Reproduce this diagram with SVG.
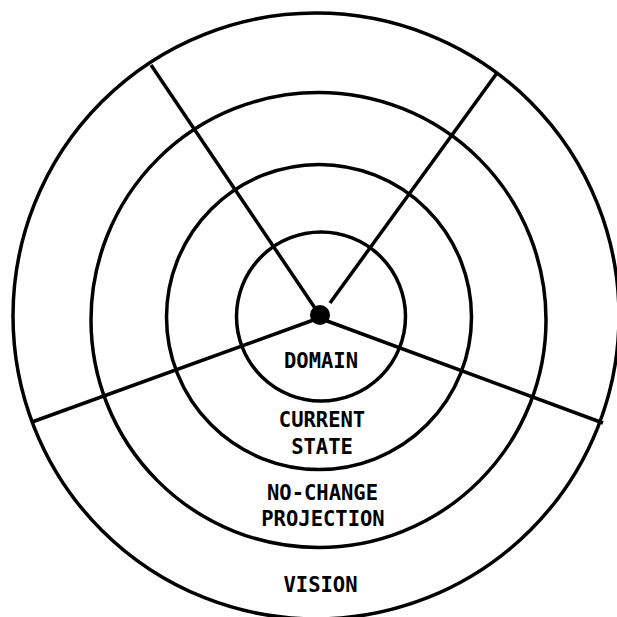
<svg xmlns="http://www.w3.org/2000/svg" width="617" height="617" viewBox="0 0 617 617">
<style>
.ring{fill:none;stroke:#000;stroke-width:3.5}
.spoke{stroke:#000;stroke-width:3.5;stroke-linecap:butt}
.lbl{font-family:"DejaVu Sans Mono","Liberation Mono",monospace;font-weight:bold;font-size:20.5px;fill:#000;text-anchor:middle}
</style>
<rect width="617" height="617" fill="#fff"/>
<g id="vision">
<circle class="ring" cx="316" cy="316" r="303" stroke-width="3"/>
<text class="lbl" x="320.5" y="592">VISION</text>
</g>
<g id="no-change-projection">
<circle class="ring" cx="318.5" cy="320" r="227.5"/>
<text class="lbl" x="322.5" y="500">NO-CHANGE</text>
<text class="lbl" x="323" y="526">PROJECTION</text>
</g>
<g id="current-state">
<circle class="ring" cx="319" cy="317" r="152.5" stroke-width="4"/>
<text class="lbl" x="322" y="427">CURRENT</text>
<text class="lbl" x="322" y="454">STATE</text>
</g>
<g id="domain">
<circle class="ring" cx="321" cy="316.5" r="84.5" stroke-width="4"/>
<text class="lbl" x="321" y="368">DOMAIN</text>
</g>
<g id="connectors">
<line class="spoke" x1="319" y1="314" x2="151" y2="65"/>
<line class="spoke" x1="330" y1="303" x2="497" y2="73"/>
<line class="spoke" x1="319" y1="318" x2="32" y2="422"/>
<line class="spoke" x1="319" y1="318" x2="603" y2="423"/>
<circle cx="320" cy="315" r="10" fill="#000"/>
</g>
</svg>
